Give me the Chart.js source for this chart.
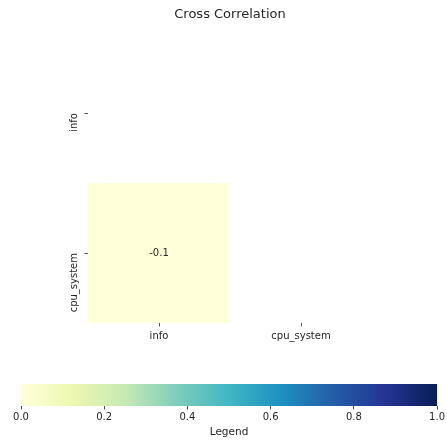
<!DOCTYPE html>
<html>
<head>
<meta charset="utf-8">
<script src="https://cdn.jsdelivr.net/npm/chart.js@4/dist/chart.umd.min.js"></script>
<style>
  html, body { margin: 0; padding: 0; background: #ffffff; }
  #wrap { position: relative; width: 447px; height: 442px; overflow: hidden; background: #fff; }
  #main { position: absolute; left: 0; top: 0; }
  #cbar { position: absolute; left: 0; top: 370px; }
</style>
</head>
<body>
<div id="wrap">
  <canvas id="main" width="447" height="370"></canvas>
  <canvas id="cbar" width="447" height="72"></canvas>
</div>
<script>
// ---- data ----
const chartTitle = 'Cross Correlation';
const rowLabels = ['info', 'cpu_system'];
const colLabels = ['info', 'cpu_system'];
// values[row][col]; null = masked cell
const rowInfo = [null, null];
const rowCpuSystem = [-0.1, null];
const values = [rowInfo, rowCpuSystem];
const legendTitle = 'Legend';
const legendTicks = [0.0, 0.2, 0.4, 0.6, 0.8, 1.0];
const vmin = 0, vmax = 1;
// YlGnBu colormap stops
const cmapStops = [0, 0.125, 0.25, 0.375, 0.5, 0.625, 0.75, 0.875, 1];
const cmapColors = ['#ffffd9', '#edf8b1', '#c7e9b4', '#7fcdbb', '#41b6c4', '#1d91c0', '#225ea8', '#253494', '#081d58'];

const FONT = 'DejaVu Sans';
const TXT = '#262626';

function hexToRgb(h) {
  return [parseInt(h.slice(1, 3), 16), parseInt(h.slice(3, 5), 16), parseInt(h.slice(5, 7), 16)];
}
function cmap(v) {
  let t = (v - vmin) / (vmax - vmin);
  t = Math.max(0, Math.min(1, t));
  for (let i = 0; i < cmapStops.length - 1; i++) {
    if (t <= cmapStops[i + 1]) {
      const f = (t - cmapStops[i]) / (cmapStops[i + 1] - cmapStops[i]);
      const a = hexToRgb(cmapColors[i]), b = hexToRgb(cmapColors[i + 1]);
      const c = a.map((x, k) => Math.round(x + (b[k] - x) * f));
      return 'rgb(' + c.join(',') + ')';
    }
  }
  return cmapColors[cmapColors.length - 1];
}

const heatPlugin = {
  id: 'heat',
  beforeDatasetsDraw(chart) {
    const ctx = chart.ctx;
    const xs = chart.scales.x, ys = chart.scales.y;
    ctx.save();
    for (let r = 0; r < values.length; r++) {
      for (let c = 0; c < values[r].length; c++) {
        const v = values[r][c];
        if (v === null || v === undefined) continue;
        const x0 = xs.getPixelForValue(c), x1 = xs.getPixelForValue(c + 1);
        const y0 = ys.getPixelForValue(r), y1 = ys.getPixelForValue(r + 1);
        ctx.fillStyle = cmap(v);
        ctx.fillRect(Math.min(x0, x1), Math.min(y0, y1), Math.abs(x1 - x0), Math.abs(y1 - y0));
        ctx.fillStyle = TXT;
        ctx.font = '10px "' + FONT + '"';
        ctx.textAlign = 'center';
        ctx.textBaseline = 'middle';
        ctx.fillText(v.toFixed(1), (x0 + x1) / 2, (y0 + y1) / 2);
      }
    }
    ctx.restore();
  }
};

new Chart(document.getElementById('main'), {
  type: 'scatter',
  data: { datasets: [{ data: [] }] },
  plugins: [heatPlugin],
  options: {
    responsive: false,
    animation: false,
    devicePixelRatio: 1,
    layout: { padding: { left: 0, right: 75, top: 0, bottom: 0 } },
    plugins: {
      legend: { display: false },
      tooltip: { enabled: false },
      title: {
        display: true,
        text: chartTitle,
        fullSize: false,
        color: TXT,
        font: { family: FONT, size: 13, weight: 'normal' },
        padding: { top: 6.5, bottom: 21 }
      }
    },
    scales: {
      x: {
        type: 'linear',
        min: 0, max: colLabels.length,
        afterBuildTicks: (s) => { s.ticks = colLabels.map((_, i) => ({ value: i + 0.5 })); },
        afterFit: (s) => { s.height = 47; },
        border: { display: false },
        grid: { drawOnChartArea: false, drawTicks: true, tickLength: 3.5, tickColor: TXT, lineWidth: 0.8 },
        ticks: {
          color: TXT, padding: 3.5, maxRotation: 0, autoSkip: false,
          font: { family: FONT, size: 10 },
          callback: (v) => colLabels[Math.round(v - 0.5)]
        }
      },
      y: {
        type: 'linear',
        reverse: true,
        min: 0, max: rowLabels.length,
        afterBuildTicks: (s) => { s.ticks = rowLabels.map((_, i) => ({ value: i + 0.5 })); },
        afterFit: (s) => { s.width = 88; },
        border: { display: false },
        grid: { drawOnChartArea: false, drawTicks: true, tickLength: 3.5, tickColor: TXT, lineWidth: 0.8 },
        ticks: {
          color: TXT, padding: 10, minRotation: 90, maxRotation: 90, autoSkip: false,
          font: { family: FONT, size: 10 },
          callback: (v) => rowLabels[Math.round(v - 0.5)]
        }
      }
    }
  }
});

const cbarPlugin = {
  id: 'cbarGrad',
  beforeDatasetsDraw(chart) {
    const ctx = chart.ctx;
    const xs = chart.scales.x;
    const a = chart.chartArea;
    const p0 = xs.getPixelForValue(vmin), p1 = xs.getPixelForValue(vmax);
    const g = ctx.createLinearGradient(p0, 0, p1, 0);
    cmapStops.forEach((s, i) => g.addColorStop(s, cmapColors[i]));
    ctx.save();
    ctx.fillStyle = g;
    ctx.fillRect(p0, a.top, p1 - p0, a.bottom - a.top);
    ctx.restore();
  }
};

new Chart(document.getElementById('cbar'), {
  type: 'scatter',
  data: { datasets: [{ data: [] }] },
  plugins: [cbarPlugin],
  options: {
    responsive: false,
    animation: false,
    devicePixelRatio: 1,
    layout: { padding: { left: 21, right: 8, top: 14, bottom: 0 } },
    plugins: { legend: { display: false }, tooltip: { enabled: false }, title: { display: false } },
    scales: {
      x: {
        type: 'linear',
        min: vmin, max: vmax,
        afterBuildTicks: (s) => { s.ticks = legendTicks.map(v => ({ value: v })); },
        afterFit: (s) => { s.height = 36; },
        border: { display: false },
        grid: { drawOnChartArea: false, drawTicks: true, tickLength: 3.5, tickColor: TXT, lineWidth: 0.8 },
        ticks: {
          color: TXT, padding: 2, maxRotation: 0, autoSkip: false,
          font: { family: FONT, size: 10 },
          callback: (v) => Number(v).toFixed(1)
        },
        title: {
          display: true, text: legendTitle, color: TXT,
          font: { family: FONT, size: 10.5 },
          padding: { top: 0, bottom: 3 }
        }
      },
      y: { display: false, min: 0, max: 1 }
    }
  }
});
</script>
</body>
</html>
